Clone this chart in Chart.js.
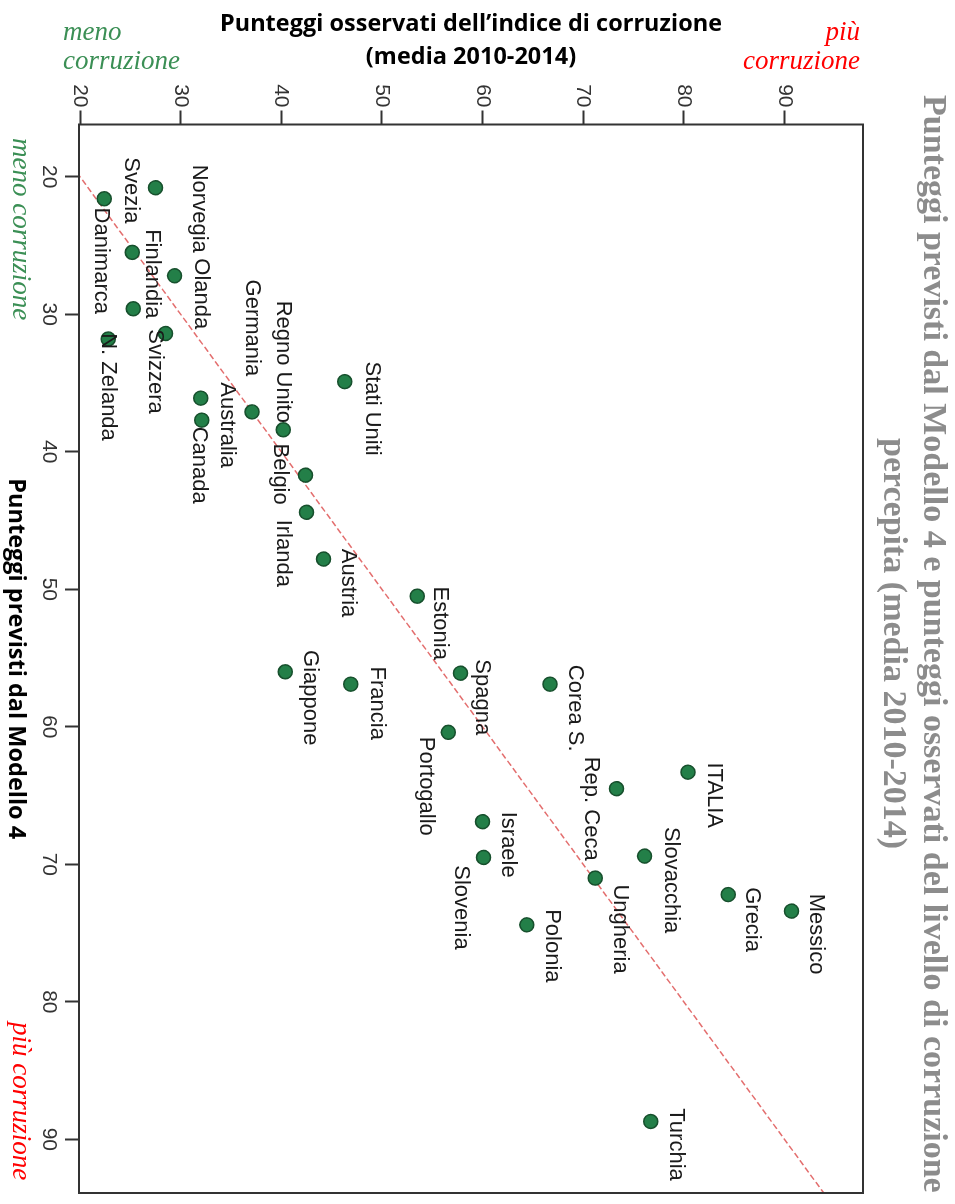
<!DOCTYPE html>
<html lang="it">
<head>
<meta charset="utf-8">
<title>Modello 4 - punteggi previsti e osservati</title>
<script src="https://cdn.jsdelivr.net/npm/chart.js@4.4.1/dist/chart.umd.min.js"></script>
<style>
  html, body { margin: 0; padding: 0; background: #fff; }
  body { width: 955px; height: 1204px; position: relative; overflow: hidden; }
  /* the chart is drawn upright and then turned 90deg clockwise, like the original */
  #wrap { position: absolute; left: 0; top: 0; width: 1204px; height: 955px;
          transform-origin: 0 0; transform: translate(955px, 0) rotate(90deg); }
  .note { position: absolute; font-family: "Liberation Serif", serif; font-style: italic;
          font-size: 27px; line-height: 29px; white-space: nowrap; }
  .green { color: #3b8f55; }
  .red { color: #ff0000; }
  .vert { writing-mode: vertical-rl; line-height: 30px; }
  #sideTitle { position: absolute; left: 866px; top: 83px; width: 89px; height: 1121px;
               writing-mode: vertical-rl; text-align: center; white-space: nowrap;
               font-family: "Liberation Serif", serif; font-weight: bold; font-size: 34px;
               line-height: 40px; color: #8c8c8c; }
</style>
</head>
<body>
<div id="wrap"><canvas id="chart" width="1204" height="955"></canvas></div>

<div class="note green" style="left:63px; top:17px;">meno<br>corruzione</div>
<div class="note red" style="right:95px; top:17px; text-align:right;">più<br>corruzione</div>
<div class="note green vert" style="left:7px; top:138px;">meno corruzione</div>
<div class="note red vert" style="left:7px; top:1022px;">più corruzione</div>
<div id="sideTitle">Punteggi previsti dal Modello 4 e punteggi osservati del livello di corruzione<br>percepita (media 2010-2014)</div>

<script>
// data
const countries = ['Danimarca', 'Norvegia', 'Svezia', 'Olanda', 'Finlandia', 'Svizzera', 'N. Zelanda',
    'Stati Uniti', 'Australia', 'Germania', 'Canada', 'Regno Unito', 'Belgio', 'Irlanda', 'Austria',
    'Estonia', 'Giappone', 'Spagna', 'Francia', 'Corea S.', 'Portogallo', 'ITALIA', 'Rep. Ceca',
    'Israele', 'Slovacchia', 'Slovenia', 'Ungheria', 'Grecia', 'Messico', 'Polonia', 'Turchia'];
const predicted = [21.6, 20.8, 25.5, 27.2, 29.6, 31.4, 31.8,
    34.9, 36.1, 37.1, 37.7, 38.4, 41.7, 44.4, 47.8,
    50.5, 56.0, 56.1, 56.9, 56.9, 60.4, 63.3, 64.5,
    66.9, 69.4, 69.5, 71.0, 72.2, 73.4, 74.4, 88.7];
const observed = [22.4, 27.5, 25.2, 29.4, 25.3, 28.5, 22.8,
    46.3, 32.0, 37.1, 32.1, 40.2, 42.4, 42.5, 44.2,
    53.5, 40.4, 57.8, 46.9, 66.7, 56.6, 80.4, 73.3,
    60.0, 76.1, 60.1, 71.2, 84.4, 90.7, 64.4, 76.7];
// dashed reference line, end points
const fitPredicted = [16, 94];
const fitObserved = [16, 94];
const predTicks = [20, 30, 40, 50, 60, 70, 80, 90];
const obsTicks = [20, 30, 40, 50, 60, 70, 80, 90];

// where each name sits, relative to its dot, as seen on the page (right, down)
const labelShift = [[-3, 62], [44, 21], [-1, -62], [26, 18], [19, -35], [-10, 38], [0, 48],
    [27, 27], [26, 27], [0, -84], [-3, 45], [0, -68], [-25, -1], [-23, 41], [25, 24],
    [23, 27], [25, 26], [22, 24], [26, 19], [25, 24], [-22, 54], [26, 23], [-25, 20],
    [25, 23], [26, 24], [-23, 50], [25, 51], [24, 25], [25, 23], [25, 21], [25, 23]];

const sansFont = '"Liberation Sans", Arial, sans-serif';
const titleFont = '"Open Sans", "Liberation Sans", sans-serif';

// closed box around the plot
const frame = {
    id: 'frame',
    afterDatasetsDraw(chart) {
        const { ctx, chartArea: a } = chart;
        ctx.save();
        ctx.strokeStyle = '#333';
        ctx.lineWidth = 2;
        ctx.strokeRect(a.left, a.top, a.right - a.left, a.bottom - a.top);
        ctx.restore();
    }
};

// country names next to the dots
const pointLabels = {
    id: 'pointLabels',
    afterDatasetsDraw(chart) {
        const ctx = chart.ctx;
        const meta = chart.getDatasetMeta(0);
        ctx.save();
        ctx.font = '22px ' + sansFont;
        ctx.fillStyle = '#1a1a1a';
        ctx.textAlign = 'center';
        ctx.textBaseline = 'middle';
        meta.data.forEach((pt, i) => {
            const [dx, dy] = labelShift[i];
            // canvas is turned clockwise: page right = canvas up, page down = canvas right
            ctx.fillText(countries[i], pt.x + dy, pt.y - dx);
        });
        ctx.restore();
    }
};

new Chart(document.getElementById('chart'), {
    type: 'scatter',
    data: {
        datasets: [{
            label: 'Paesi',
            data: countries.map((c, i) => ({ x: predicted[i], y: observed[i] })),
            pointRadius: 7,
            pointBackgroundColor: '#237f48',
            pointBorderColor: '#17502d',
            pointBorderWidth: 1.5,
            order: 1
        }, {
            type: 'line',
            label: 'retta',
            data: fitPredicted.map((p, i) => ({ x: p, y: fitObserved[i] })),
            showLine: true,
            borderColor: 'rgba(222, 85, 85, 0.85)',
            borderWidth: 1.5,
            borderDash: [6, 3],
            pointRadius: 0,
            order: 2
        }]
    },
    options: {
        responsive: false,
        animation: false,
        devicePixelRatio: 1,
        layout: { padding: { top: 92, right: 11, bottom: 0, left: 0 } },
        plugins: {
            legend: { display: false },
            tooltip: { enabled: false }
        },
        scales: {
            x: {
                type: 'linear',
                position: 'bottom',
                min: 16.2,
                max: 93.9,
                afterBuildTicks: s => { s.ticks = predTicks.map(v => ({ value: v })); },
                afterFit: s => { s.height = 79; },
                grid: { drawOnChartArea: false, tickLength: 14, tickWidth: 2, tickColor: '#333' },
                border: { display: false },
                ticks: { padding: 4, maxRotation: 0, color: '#333', font: { family: sansFont, size: 21 } },
                title: {
                    display: true,
                    text: 'Punteggi previsti dal Modello 4',
                    color: '#000',
                    padding: { top: 0, bottom: 2 },
                    font: { family: titleFont, weight: 'bold', size: 23.5, lineHeight: 1.2 }
                }
            },
            y: {
                type: 'linear',
                position: 'left',
                min: 19.9,
                max: 97.8,
                afterBuildTicks: s => { s.ticks = obsTicks.map(v => ({ value: v })); },
                afterFit: s => { s.width = 124.5; },
                grid: { drawOnChartArea: false, tickLength: 14, tickWidth: 2, tickColor: '#333' },
                border: { display: false },
                ticks: { padding: 3, color: '#333', font: { family: sansFont, size: 21 } },
                title: {
                    display: true,
                    text: ['Punteggi osservati dell\u2019indice di corruzione', '(media 2010-2014)'],
                    color: '#000',
                    padding: { top: 7.5, bottom: 0 },
                    font: { family: titleFont, weight: 'bold', size: 23.5, lineHeight: '33px' }
                }
            }
        }
    },
    plugins: [frame, pointLabels]
});
</script>
</body>
</html>
